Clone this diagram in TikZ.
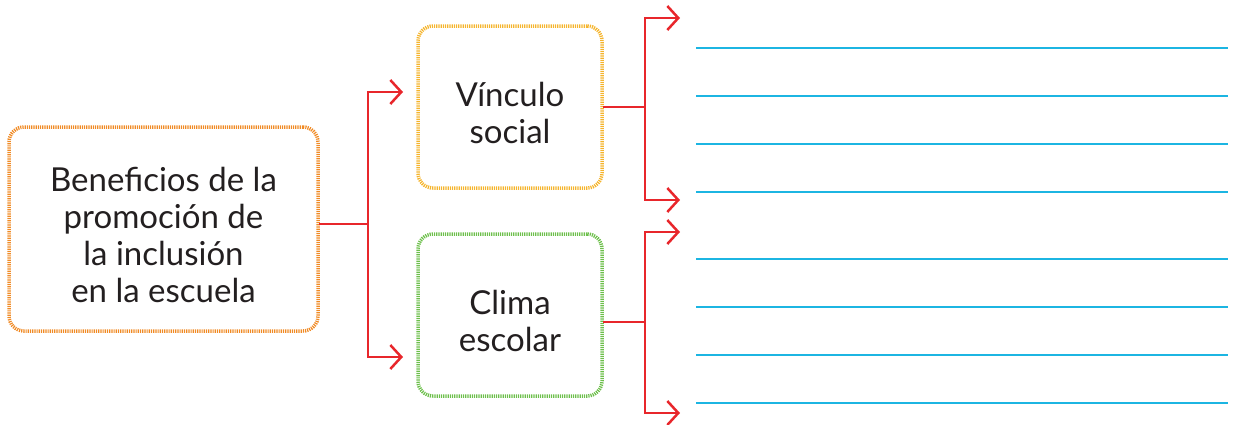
\documentclass[tikz,border=0pt]{standalone}
\usepackage{fontspec}
\setmainfont{Lato}
\usetikzlibrary{arrows.meta}
\definecolor{txt}{HTML}{231F20}
\definecolor{borange}{HTML}{F08A24}
\definecolor{byellow}{HTML}{F5B42C}
\definecolor{bgreen}{HTML}{6CBF4A}
\definecolor{cred}{HTML}{E8262B}
\definecolor{lblue}{HTML}{1CB5E2}
\tikzset{
  box/.style={draw=#1, line width=3.5pt, dash pattern=on 1.2pt off 1pt,
    rounded corners=15pt, inner sep=0pt},
  label text/.style={inner sep=0pt, align=center, text=txt,
    font=\fontsize{33}{37}\selectfont},
  conn/.style={draw=cred, line width=2.5pt, line cap=rect},
  arr/.style={conn, -{Straight Barb[length=11pt,width=24pt,line width=2.5pt]}},
  wline/.style={draw=lblue, line width=2.2pt}
}
\begin{document}
\begin{tikzpicture}[x=1pt,y=-1pt]
\useasboundingbox (0,0) rectangle (1233,424);
% boxes
\node[box=borange, minimum width=309pt, minimum height=204pt] (main) at (163.5,229) {};
\node[label text] (maintext) at ([yshift=-6pt]main.center)
  {Beneficios de la\\promoción de\\la inclusión\\en la escuela};
\node[box=byellow, minimum width=184pt, minimum height=162pt] (vinculo) at (510,107) {};
\node[label text] (vinculotext) at ([yshift=-6pt]vinculo.center) {Vínculo\\social};
\node[box=bgreen, minimum width=184pt, minimum height=162pt] (clima) at (510,315) {};
\node[label text] (climatext) at ([yshift=-6pt]clima.center) {Clima\\escolar};
% junctions and arrow targets
\coordinate (j1) at (368,224);
\coordinate (a1) at (403,92);
\coordinate (a2) at (403,357);
\coordinate (j2) at (645,107);
\coordinate (b1) at (680,18);
\coordinate (b2) at (680,200);
\coordinate (j3) at (645,322);
\coordinate (c1) at (680,232);
\coordinate (c2) at (680,413);
% connectors
\draw[conn] (main.east |- j1) -- (j1);
\draw[arr] (j1) |- (a1);
\draw[arr] (j1) |- (a2);
\draw[conn] (vinculo.east |- j2) -- (j2);
\draw[arr] (j2) |- (b1);
\draw[arr] (j2) |- (b2);
\draw[conn] (clima.east |- j3) -- (j3);
\draw[arr] (j3) |- (c1);
\draw[arr] (j3) |- (c2);
% writing lines
\foreach \i/\y in {1/48,2/96,3/144,4/192,5/259,6/307,7/355,8/403}{
  \coordinate (w\i s) at (696,\y);
  \coordinate (w\i e) at (1228,\y);
  \draw[wline] (w\i s) -- (w\i e);
}
\end{tikzpicture}
\end{document}
